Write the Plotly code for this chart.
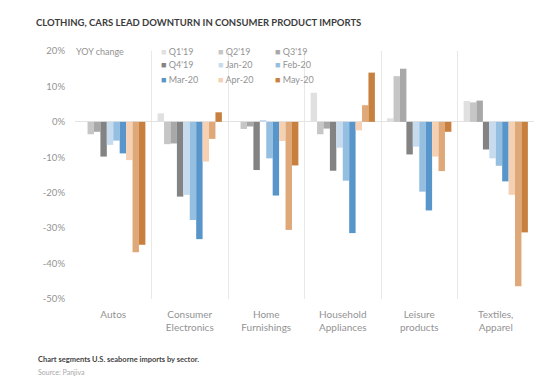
import plotly.graph_objects as go

# ---------------- data ----------------
categories = ["Autos", "Consumer Electronics", "Home Furnishings",
              "Household Appliances", "Leisure products", "Textiles, Apparel"]
tick_labels = ["Autos", "Consumer<br>Electronics", "Home<br>Furnishings",
               "Household<br>Appliances", "Leisure<br>products", "Textiles,<br>Apparel"]
y_tick_values = [20, 10, 0, -10, -20, -30, -40, -50]
y_tick_labels = ["20%", "10%", "0%", "-10%", "-20%", "-30%", "-40%", "-50%"]

series_names = ["Q1'19", "Q2'19", "Q3'19", "Q4'19", "Jan-20", "Feb-20",
                "Mar-20", "Apr-20", "(unlabelled)", "May-20"]
q1_19 = [0.0, 2.4, 0.0, 8.2, 1.0, 5.9]
q2_19 = [-3.5, -6.3, -2.0, -3.5, 12.9, 5.5]
q3_19 = [-2.8, -6.1, -1.3, -1.9, 15.0, 6.0]
q4_19 = [-9.8, -21.1, -13.6, -13.8, -9.2, -7.8]
jan_20 = [-6.5, -20.6, 0.3, -7.3, -7.0, -10.3]
feb_20 = [-5.3, -27.7, -10.3, -16.6, -19.7, -12.4]
mar_20 = [-8.9, -33.1, -20.8, -31.4, -25.0, -16.8]
apr_20 = [-10.8, -11.2, -5.4, -2.4, -9.8, -20.6]
unlabelled = [-36.8, -4.8, -30.5, 4.7, -13.9, -46.4]
may_20 = [-34.7, 2.7, -12.3, 13.9, -2.8, -31.2]
series_values = [q1_19, q2_19, q3_19, q4_19, jan_20, feb_20, mar_20,
                 apr_20, unlabelled, may_20]

colors = ["#e0e0e0", "#c6c6c6", "#a8a8a8", "#838383", "#c6dcee", "#94bfe0",
          "#5895cb", "#f5d0b2", "#dfa878", "#c8803f"]

# legend entries (3 rows x 3 columns) -> index into series
legend_series = [0, 1, 2, 3, 4, 5, 6, 7, 9]

# ---------------- layout geometry ----------------
W, H = 550, 381
L, R, T, B = 67, 24, 43, 90
PW, PH = W - L - R, H - T - B

FONT = "Lato, 'Open Sans', sans-serif"
GREY = "#939393"


def px_x(x):
    return (x - L) / PW


def px_y(y):
    return (H - B - y) / PH


fig = go.Figure()
for name, vals, col in zip(series_names, series_values, colors):
    fig.add_trace(go.Bar(x=categories, y=vals, name=name,
                         marker=dict(color=col, line=dict(width=0)),
                         showlegend=False))

annotations = []
# manual legend
col_x = [151, 208, 265]
row_y = [43, 57, 71]
annotations.append(dict(text="YOY change", x=px_x(66), y=px_y(43), xref="paper", yref="paper",
                        xanchor="left", yanchor="middle", showarrow=False,
                        font=dict(family=FONT, size=9, color=GREY)))
for k, si in enumerate(legend_series):
    r, c = divmod(k, 3)
    annotations.append(dict(
        text=f'<span style="color:{colors[si]}">■</span> {series_names[si]}',
        x=px_x(col_x[c]), y=px_y(row_y[r]), xref="paper", yref="paper",
        xanchor="left", yanchor="middle", showarrow=False,
        font=dict(family=FONT, size=9, color=GREY)))

# footer
annotations.append(dict(text="<b>Chart segments U.S. seaborne imports by sector.</b>",
                        x=px_x(28), y=px_y(351), xref="paper", yref="paper",
                        xanchor="left", yanchor="middle", showarrow=False,
                        font=dict(family=FONT, size=7.5, color="#444444")))
annotations.append(dict(text="Source: Panjiva",
                        x=px_x(28), y=px_y(364), xref="paper", yref="paper",
                        xanchor="left", yanchor="middle", showarrow=False,
                        font=dict(family=FONT, size=7, color="#a8a8a8")))

# white boxes behind the legend text that hide the divider lines there
shapes = [
    dict(type="rect", xref="paper", yref="paper", layer="between",
         x0=px_x(62), x1=px_x(112), y0=px_y(51), y1=1,
         fillcolor="white", line=dict(width=0)),
    dict(type="rect", xref="paper", yref="paper", layer="between",
         x0=px_x(140), x1=px_x(301), y0=px_y(79), y1=1,
         fillcolor="white", line=dict(width=0)),
]

fig.update_layout(
    width=W, height=H,
    margin=dict(l=L, r=R, t=T, b=B, pad=0),
    paper_bgcolor="white", plot_bgcolor="white",
    barmode="group", bargap=0.16, bargroupgap=0,
    showlegend=False,
    title=dict(text="<b>CLOTHING, CARS LEAD DOWNTURN IN CONSUMER PRODUCT IMPORTS</b>",
               x=28 / W, xanchor="left", xref="container",
               y=1 - 15 / H, yanchor="middle", yref="container",
               font=dict(family=FONT, size=9.5, color="#3c3c3c")),
    xaxis=dict(type="category", tickmode="array", tickvals=categories, ticktext=tick_labels,
               tickson="boundaries", showgrid=True, gridcolor="#e8e8e8", gridwidth=1,
               ticks="", showline=False, zeroline=False, ticklabelstandoff=8,
               tickfont=dict(family=FONT, size=10, color=GREY)),
    yaxis=dict(range=[-50, 20], tickmode="array", tickvals=y_tick_values,
               ticktext=y_tick_labels, showgrid=False, zeroline=True,
               zerolinecolor="#e3e3e3", zerolinewidth=1, showline=False, ticks="",
               ticklabelstandoff=9, tickfont=dict(family=FONT, size=9.5, color=GREY)),
    shapes=shapes,
    annotations=annotations,
)

fig.write_html("out.html")
